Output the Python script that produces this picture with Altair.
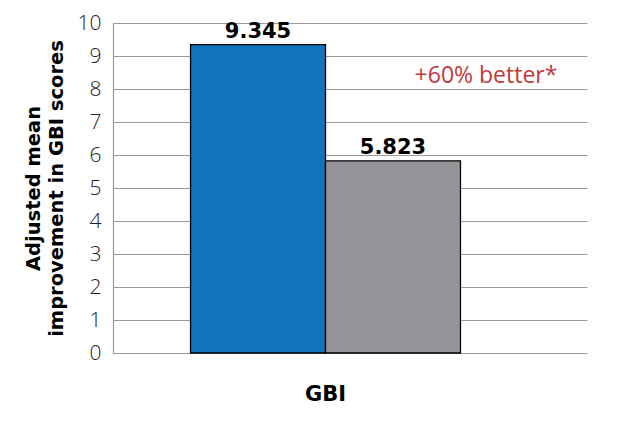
import altair as alt
import pandas as pd

category = ["GBI", "GBI"]
groups = ["Intervention", "Comparison"]
values = [9.345, 5.823]
labels = ["9.345", "5.823"]
colors = ["#1173b9", "#939598"]
y_ticks = list(range(0, 11))
note_text = ["+60% better*"]
note_y = [8.4]

df = pd.DataFrame({"category": category, "group": groups, "value": values, "label": labels})
note_df = pd.DataFrame({"label": note_text, "value": note_y})

BOLD = "DejaVu Sans"
LIGHT = "Open Sans"

x_enc = alt.X(
    "category:N",
    title=None,
    scale=alt.Scale(paddingInner=0, paddingOuter=0.378, align=0.38),
    axis=alt.Axis(
        labelAngle=0, labelFont=BOLD, labelFontWeight="bold", labelFontSize=21,
        labelColor="black", labelPadding=30, ticks=False, domain=False, grid=False,
    ),
)
xoff = alt.XOffset("group:N", sort=groups, scale=alt.Scale(paddingInner=0, paddingOuter=0))
y_enc = alt.Y(
    "value:Q",
    scale=alt.Scale(domain=[0, 10], nice=False),
    axis=alt.Axis(
        values=y_ticks, tickCount=11, labelOverlap=False, grid=True, gridColor="#9a9a9a", gridWidth=1.2,
        domain=True, domainColor="#9a9a9a", domainWidth=1.2, ticks=False,
        labelFont=LIGHT, labelFontWeight=300, labelFontSize=21, labelColor="#222",
        labelPadding=12,
        title=["Adjusted mean", "improvement in GBI scores"],
        titleFont=BOLD, titleFontWeight="bold", titleFontSize=19.5, titleColor="black",
        titlePadding=11, titleLineHeight=23,
    ),
)

bars = alt.Chart(df).mark_bar(stroke="black", strokeWidth=1.3).encode(
    x=x_enc, xOffset=xoff, y=y_enc,
    color=alt.Color("group:N", scale=alt.Scale(domain=groups, range=colors), legend=None),
)
text = alt.Chart(df).mark_text(
    baseline="bottom", dy=-3, font=BOLD, fontWeight="bold", fontSize=21, color="black"
).encode(x=x_enc, xOffset=xoff, y=y_enc, text="label:N")
note = alt.Chart(note_df).mark_text(
    font=LIGHT, fontSize=23, color="#c1393e", align="center", baseline="middle"
).encode(x=alt.value(373), y=y_enc, text="label:N")

chart = alt.layer(bars, text, note).properties(
    width=474, height=330,
    autosize=alt.AutoSizeParams(type="none"),
    padding={"left": 105, "top": 15, "right": 20, "bottom": 64},
    background="white",
).configure_view(stroke=None)

chart.save("out.html", embed_options={"renderer": "svg", "actions": False})
